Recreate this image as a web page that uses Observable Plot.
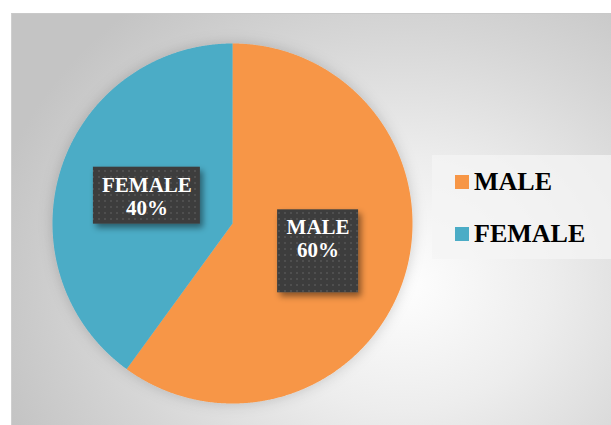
<!DOCTYPE html>
<html><head><meta charset="utf-8">
<script src="https://cdn.jsdelivr.net/npm/d3@7"></script>
<script src="https://cdn.jsdelivr.net/npm/@observablehq/plot@0.6"></script>
<style>
html,body{margin:0;padding:0;background:#fff;}
#wrap{position:relative;width:611px;height:425px;overflow:hidden;}
#bg{position:absolute;left:11px;top:13px;width:600px;height:412px;
  background:radial-gradient(ellipse 420px 360px at 390px 270px,#fefefe 0%,#ededed 35%,#d6d6d6 70%,#c4c4c4 100%);
  border-top:1px solid #c9c9c9;border-left:1px solid #cfcfcf;box-sizing:border-box;}
#chart{position:absolute;left:0;top:0;}
</style></head><body>
<div id="wrap"><div id="bg"></div><div id="chart"></div></div>
<script>
// ---- data ----
const categories = ["MALE", "FEMALE"];
const percents = [60, 40];
const colors = ["#F79646", "#4BACC6"];

// ---- geometry derived from data ----
const arcs = d3.pie().sort(null).value(d => d)(percents);
const slicePts = [];
arcs.forEach((a, i) => {
  const n = Math.ceil((a.endAngle - a.startAngle) / 0.005);
  slicePts.push({cat: categories[i], x: 0, y: 0});
  for (let k = 0; k <= n; k++) {
    const t = a.startAngle + (a.endAngle - a.startAngle) * k / n;
    slicePts.push({cat: categories[i], x: Math.sin(t), y: Math.cos(t)});
  }
  slicePts.push({cat: categories[i], x: 0, y: 0});
});
const labels = arcs.map((a, i) => {
  const m = (a.startAngle + a.endAngle) / 2;
  return {cat: categories[i], x: 0.5 * Math.sin(m), y: 0.5 * Math.cos(m),
          text: categories[i] + "\n" + percents[i] + "%"};
});

const plot = Plot.plot({
  width: 611, height: 425,
  marginLeft: 52, marginRight: 199, marginTop: 43, marginBottom: 22,
  style: {background: "transparent", overflow: "visible"},
  x: {domain: [-1, 1], axis: null},
  y: {domain: [-1, 1], axis: null},
  color: {domain: categories, range: colors},
  marks: [
    Plot.line(slicePts, {x: "x", y: "y", z: "cat", fill: "cat", stroke: "none", curve: "linear", className: "slices"}),
    Plot.text(labels, {x: "x", y: "y", text: "text", fill: "white", fontSize: 21, fontWeight: "bold",
      fontFamily: "'Liberation Serif','Times New Roman',serif", lineHeight: 1.1, className: "lbls"})
  ]
});
document.getElementById("chart").appendChild(plot);

const svg = d3.select(plot);
const defs = svg.insert("defs", ":first-child");
const pat = defs.append("pattern").attr("id", "dots").attr("patternUnits", "userSpaceOnUse")
  .attr("width", 6).attr("height", 6);
pat.append("rect").attr("width", 6).attr("height", 6).attr("fill", "#3e3e3e");
pat.append("circle").attr("cx", 3).attr("cy", 3).attr("r", 1).attr("fill", "#555555");
const f = defs.append("filter").attr("id", "shadow").attr("x", "-20%").attr("y", "-20%").attr("width", "150%").attr("height", "150%");
f.append("feDropShadow").attr("dx", 3).attr("dy", 4).attr("stdDeviation", 3).attr("flood-color", "#000").attr("flood-opacity", 0.45);
const f2 = defs.append("filter").attr("id", "pieshadow").attr("x", "-20%").attr("y", "-20%").attr("width", "140%").attr("height", "140%");
f2.append("feDropShadow").attr("dx", 0).attr("dy", 0).attr("stdDeviation", 7).attr("flood-color", "#000").attr("flood-opacity", 0.18);
svg.select("g.slices").attr("filter", "url(#pieshadow)");

// label boxes (style: box size and text offset inside the box)
const boxStyle = {MALE: {w: 81, h: 83, textDy: -13}, FEMALE: {w: 107, h: 57, textDy: 0}};
const xs = plot.scale("x"), ys = plot.scale("y");
const boxG = svg.insert("g", "g.lbls");
labels.forEach(l => {
  const b = boxStyle[l.cat];
  const cx = xs.apply(l.x), cy = ys.apply(l.y);
  boxG.append("rect").attr("x", cx - b.w / 2).attr("y", cy - b.h / 2)
    .attr("width", b.w).attr("height", b.h).attr("fill", "url(#dots)").attr("filter", "url(#shadow)");
});
svg.selectAll("g.lbls text").each(function(_, j) {
  const b = boxStyle[labels[j].cat];
  const t = this.getAttribute("transform") || "";
  this.setAttribute("transform", t + ` translate(0,${b.textDy})`);
});

// legend
const color = plot.scale("color");
const lg = svg.append("g").attr("text-anchor", "start");
lg.append("rect").attr("x", 432).attr("y", 155).attr("width", 179).attr("height", 104)
  .attr("fill", "#f4f4f4").attr("fill-opacity", 0.75);
categories.forEach((c, i) => {
  const by = 190 + i * 52;
  lg.append("rect").attr("x", 455).attr("y", by - 15).attr("width", 14).attr("height", 14).attr("fill", color.apply(c));
  lg.append("text").attr("x", 474).attr("y", by).attr("fill", "#000").attr("text-anchor", "start")
    .attr("font-family", "'Liberation Serif','Times New Roman',serif").attr("font-weight", "bold")
    .attr("font-size", 26).text(c);
});
</script>
</body></html>
